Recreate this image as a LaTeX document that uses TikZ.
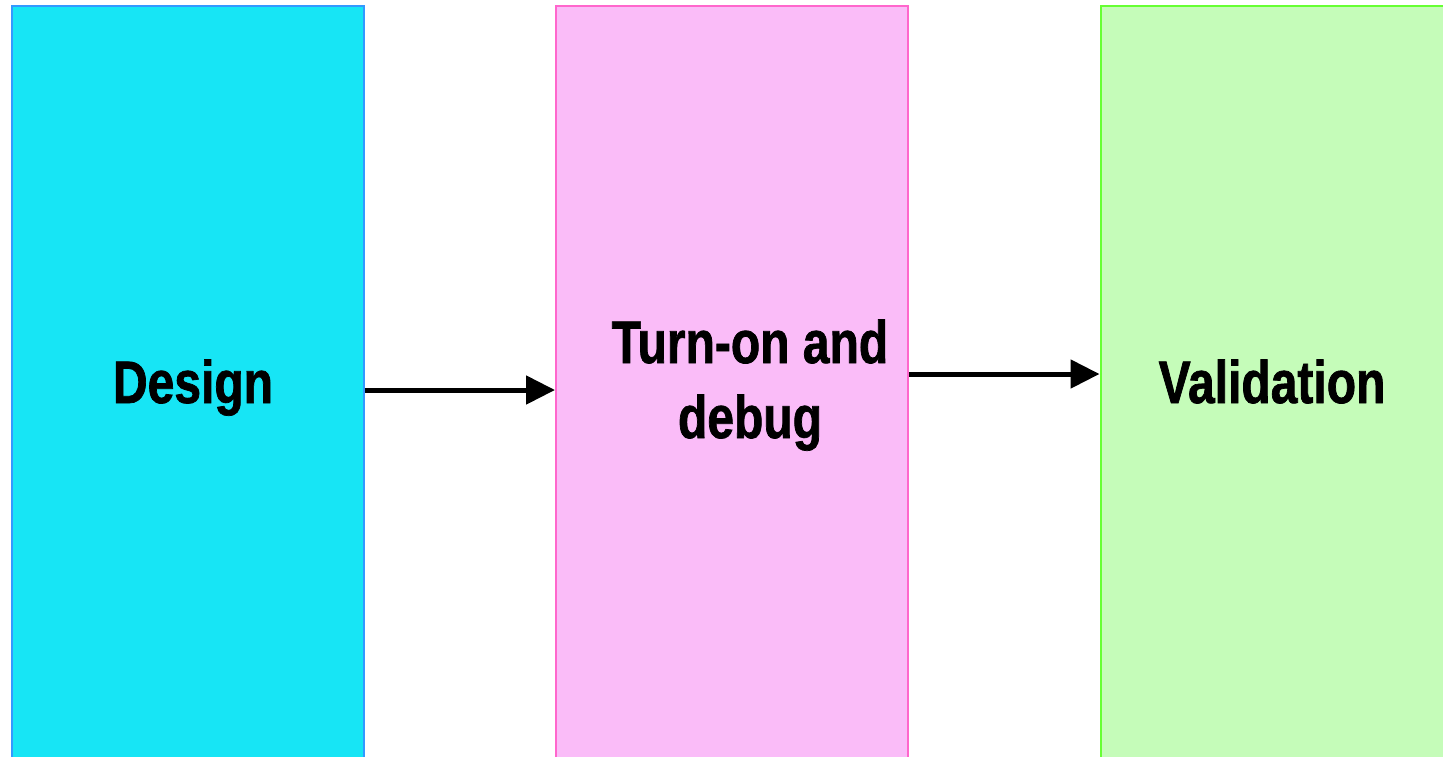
\documentclass[tikz,border=0pt]{standalone}
\usepackage{fontspec}
\newfontfamily\lblfont[FakeStretch=0.8, FakeBold=1.2]{Liberation Sans}
\usetikzlibrary{arrows.meta}
\definecolor{dsgnfill}{RGB}{23,229,245}
\definecolor{dsgnline}{RGB}{51,153,255}
\definecolor{tonfill}{RGB}{250,188,248}
\definecolor{tonline}{RGB}{255,102,204}
\definecolor{valfill}{RGB}{197,252,185}
\definecolor{valline}{RGB}{102,255,51}
\tikzset{
  stage/.style={draw, line width=1pt, minimum width=176pt, minimum height=376.5pt, inner sep=0pt},
  stagetext/.style={font=\lblfont\bfseries\fontsize{30}{37.5}\selectfont, align=center, inner sep=0pt, anchor=base},
  flow/.style={line width=2.5pt, -{Triangle[length=14.5pt, width=14pt]}}
}
\begin{document}
\begin{tikzpicture}[x=0.5pt, y=-0.5pt]
  \useasboundingbox (0,0) rectangle (1443,756);
  \clip (0,0) rectangle (1443,756);
  % three stage columns
  \node[stage, fill=dsgnfill, draw=dsgnline] (design) at (187.5,382) {};
  \node[stage, fill=tonfill, draw=tonline] (turnon) at (732,382) {};
  \node[stage, fill=valfill, draw=valline] (valid) at (1276.5,382) {};
  % stage labels
  \node[stagetext] (designlbl) at (193,403) {Design};
  \node[stagetext] (turnonlbl) at (750,438) {Turn-on and\\debug};
  \node[stagetext] (validlbl) at (1272,403) {Validation};
  % flow between stages
  \draw[flow] ([yshift=-4pt]design.east) -- ([yshift=-4pt]turnon.west);
  \draw[flow] ([yshift=4pt]turnon.east) -- ([yshift=4pt]valid.west);
\end{tikzpicture}
\end{document}
